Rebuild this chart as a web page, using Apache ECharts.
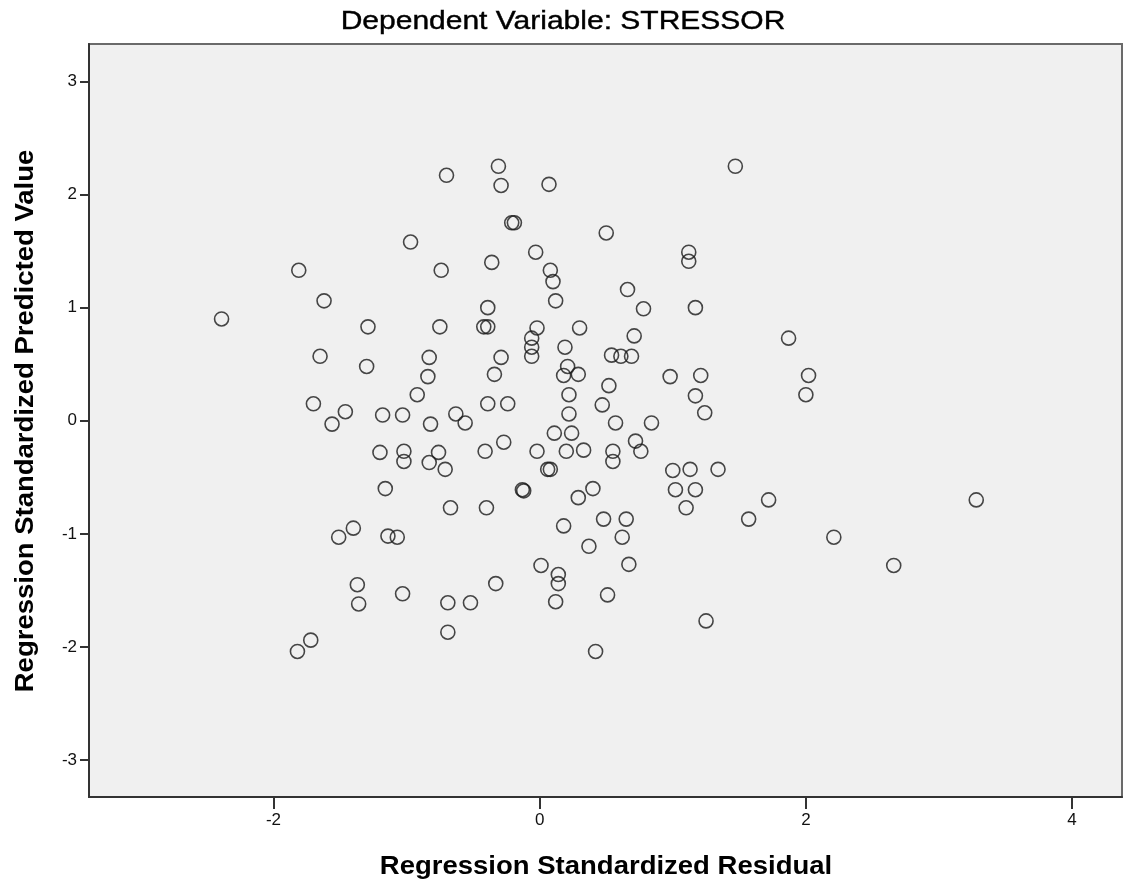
<!DOCTYPE html>
<html>
<head>
<meta charset="utf-8">
<script src="https://cdn.jsdelivr.net/npm/echarts@6/dist/echarts.min.js"></script>
<style>
  html, body { margin: 0; padding: 0; background: #ffffff; }
  #chart { width: 1126px; height: 886px; }
</style>
</head>
<body>
<div id="chart"></div>
<script>
const chartTitle = 'Dependent Variable: STRESSOR';
const xAxisName = 'Regression Standardized Residual';
const yAxisName = 'Regression Standardized Predicted Value';
const xTickValues = [-2, 0, 2, 4];
const yTickValues = [-3, -2, -1, 0, 1, 2, 3];

// Regression standardized residual (x) for each case
const residual = [
  -0.70, -0.97, -1.81, -0.74, -1.62, -0.31, -0.29, 0.07, 1.47, -0.21,
  -0.19, 0.50, -0.03, -0.36, 1.12, 1.12, 0.08, 0.10, 0.66, 0.12,
  -0.39, 0.78, 1.17, -2.39, -1.29, -0.75, -0.42, -0.39, -1.65, -0.83,
  -1.30, -0.84, -0.92, -1.70, -1.46, -1.56, -1.18, -1.03, -0.82, -0.63,
  -0.56, -1.20, -1.02, -1.02, -0.76, -0.83, -0.71, -1.16, -0.67, -1.40,
  -1.51, -1.14, -1.07, -0.02, 0.30, 0.71, -0.06, -0.06, -0.06, 0.19,
  -0.29, 0.54, 0.61, 0.69, 0.21, 0.18, 0.29, -0.34, 1.87, 0.98,
  1.21, 2.02, 0.52, 0.22, 1.17, 2.00, -0.39, -0.24, 0.47, 1.24,
  0.22, 0.57, 0.84, 0.11, 0.24, -0.27, -0.41, -0.02, 0.20, 0.33,
  0.55, 0.55, 0.72, 0.76, 0.06, 0.08, 1.00, 1.13, 1.34, -0.13,
  -0.12, 0.40, 0.29, 1.02, 1.17, 1.72, -0.40, 1.10, 1.57, 0.48,
  0.65, 2.21, 0.18, 0.62, 0.37, 3.28, -1.37, -1.36, -1.03, -0.69,
  -0.52, -0.69, -1.72, -1.82, 0.01, 0.67, 0.14, 0.14, -0.33, 0.12,
  0.51, 2.66, 1.25, 0.42
];

// Regression standardized predicted value (y) for each case
const predicted = [
  2.17, 1.58, 1.33, 1.33, 1.06, 2.25, 2.08, 2.09, 2.25, 1.75,
  1.75, 1.66, 1.49, 1.40, 1.49, 1.41, 1.33, 1.23, 1.16, 1.06,
  1.00, 0.99, 1.00, 0.90, 0.83, 0.83, 0.83, 0.83, 0.57, 0.56,
  0.48, 0.39, 0.23, 0.15, 0.08, -0.03, 0.05, 0.05, -0.03, 0.06,
  -0.02, -0.28, -0.27, -0.36, -0.28, -0.37, -0.43, -0.60, -0.77, -0.95,
  -1.03, -1.02, -1.03, 0.82, 0.82, 0.75, 0.73, 0.65, 0.57, 0.65,
  0.56, 0.58, 0.57, 0.57, 0.48, 0.40, 0.41, 0.41, 0.73, 0.39,
  0.40, 0.40, 0.31, 0.23, 0.22, 0.23, 0.15, 0.15, 0.14, 0.07,
  0.06, -0.02, -0.02, -0.11, -0.11, -0.19, -0.27, -0.27, -0.27, -0.26,
  -0.27, -0.36, -0.18, -0.27, -0.43, -0.43, -0.44, -0.43, -0.43, -0.61,
  -0.62, -0.60, -0.68, -0.61, -0.61, -0.70, -0.77, -0.77, -0.87, -0.87,
  -0.87, -1.03, -0.93, -1.03, -1.11, -0.70, -1.45, -1.62, -1.53, -1.61,
  -1.61, -1.87, -1.94, -2.04, -1.28, -1.27, -1.36, -1.44, -1.44, -1.60,
  -1.54, -1.28, -1.77, -2.04
];

const points = residual.map((r, i) => [r, predicted[i]]);

const chart = echarts.init(document.getElementById('chart'), null, { renderer: 'canvas' });

const axisColor = '#333333';
const fontFamily = '"Liberation Sans", Arial, sans-serif';

chart.setOption({
  animation: false,
  backgroundColor: '#ffffff',
  grid: {
    left: 89, right: 4, top: 44, bottom: 89,
    show: true,
    backgroundColor: '#f0f0f0',
    borderColor: '#6a6a6a',
    borderWidth: 2
  },
  xAxis: {
    type: 'value',
    min: -3.386, max: 4.375,
    axisLine: { show: true, onZero: false, lineStyle: { color: axisColor, width: 2 } },
    axisTick: { show: true, length: 12, customValues: xTickValues, lineStyle: { color: axisColor, width: 2 } },
    axisLabel: { customValues: xTickValues, color: '#111', fontSize: 17, fontFamily: fontFamily, margin: 15 },
    splitLine: { show: false }
  },
  yAxis: {
    type: 'value',
    min: -3.327, max: 3.331,
    axisLine: { show: true, onZero: false, lineStyle: { color: axisColor, width: 2 } },
    axisTick: { show: true, length: 9, customValues: yTickValues, lineStyle: { color: axisColor, width: 2 } },
    axisLabel: { customValues: yTickValues, color: '#111', fontSize: 17, fontFamily: fontFamily, margin: 12 },
    splitLine: { show: false }
  },
  graphic: [
    {
      type: 'text', x: 563, y: 22, scaleX: 1.2,
      style: { text: chartTitle, fill: '#000', font: '25px ' + fontFamily, align: 'center', verticalAlign: 'middle',
               stroke: '#000', lineWidth: 0.4 }
    },
    {
      type: 'text', x: 606, y: 867, scaleX: 1.1,
      style: { text: xAxisName, fill: '#000', font: 'bold 25px ' + fontFamily, align: 'center', verticalAlign: 'middle' }
    },
    {
      type: 'text', x: 26, y: 421, rotation: Math.PI / 2, scaleX: 1.1,
      style: { text: yAxisName, fill: '#000', font: 'bold 25px ' + fontFamily, align: 'center', verticalAlign: 'middle' }
    }
  ],
  series: [{
    type: 'scatter',
    data: points,
    symbol: 'circle',
    symbolSize: 14,
    itemStyle: { color: 'rgba(0,0,0,0)', borderColor: '#1a1a1a', borderWidth: 1.6 },
    emphasis: { disabled: true }
  }]
});
</script>
</body>
</html>
